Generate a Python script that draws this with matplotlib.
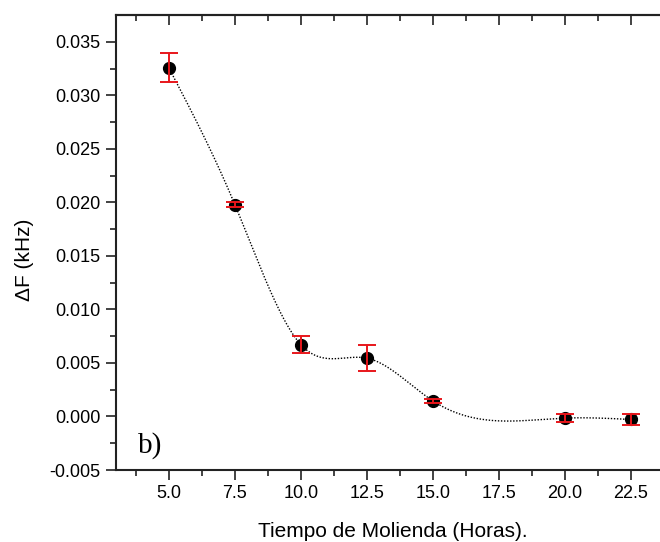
import numpy as np
import matplotlib.pyplot as plt

# milling time (hours) vs frequency shift, with error bars
hours = [5.0, 7.5, 10.0, 12.5, 15.0, 20.0, 22.5]
delta_f = [0.03257, 0.01980, 0.00672, 0.00545, 0.00146, -0.00015, -0.00028]
delta_f_err = [0.00135, 0.00020, 0.00080, 0.00120, 0.00022, 0.00035, 0.00050]

xticks = [5.0, 7.5, 10.0, 12.5, 15.0, 17.5, 20.0, 22.5]
yticks = [-0.005, 0.0, 0.005, 0.010, 0.015, 0.020, 0.025, 0.030, 0.035]


def natural_spline(x, y, npts=400):
    # natural cubic spline through the points, for the connecting line
    x = np.asarray(x, float)
    y = np.asarray(y, float)
    n = len(x)
    h = np.diff(x)
    A = np.zeros((n, n))
    r = np.zeros(n)
    A[0, 0] = A[-1, -1] = 1.0
    for i in range(1, n - 1):
        A[i, i - 1] = h[i - 1]
        A[i, i] = 2 * (h[i - 1] + h[i])
        A[i, i + 1] = h[i]
        r[i] = 3 * ((y[i + 1] - y[i]) / h[i] - (y[i] - y[i - 1]) / h[i - 1])
    c = np.linalg.solve(A, r)
    b = (y[1:] - y[:-1]) / h - h * (2 * c[:-1] + c[1:]) / 3
    d = (c[1:] - c[:-1]) / (3 * h)
    xs = np.linspace(x[0], x[-1], npts)
    k = np.clip(np.searchsorted(x, xs, side="right") - 1, 0, n - 2)
    dx = xs - x[k]
    ys = y[k] + b[k] * dx + c[k] * dx**2 + d[k] * dx**3
    return xs, ys


plt.rcParams["font.family"] = ["Liberation Sans", "DejaVu Sans"]

fig = plt.figure(figsize=(6.6, 5.42), dpi=100)
ax = fig.add_axes([0.1758, 0.1328, 0.840, 0.8395])

xs, ys = natural_spline(hours, delta_f)
ax.plot(xs, ys, color="black", lw=1.0, linestyle=(0, (1, 1.2)), zorder=2)
ax.plot(hours, delta_f, "o", color="black", markersize=8.5, zorder=3)
ax.errorbar(hours, delta_f, yerr=delta_f_err, fmt="none", ecolor="#e8161b",
            elinewidth=1.4, capsize=6.5, capthick=1.4, zorder=4)

ax.set_xlim(3.0, 24.0)
ax.set_ylim(-0.005, 0.0375)
ax.set_xticks(xticks)
ax.set_xticklabels([f"{v:.1f}" for v in xticks])
ax.set_xticks(np.arange(3.75, 24, 2.5), minor=True)
ax.set_yticks(yticks)
ax.set_yticklabels([f"{v:.3f}" for v in yticks])
ax.set_yticks(np.arange(-0.0025, 0.0375, 0.005), minor=True)

ax.spines["right"].set_visible(False)
for side in ["left", "bottom", "top"]:
    ax.spines[side].set_linewidth(1.5)
    ax.spines[side].set_color("#222222")

ax.tick_params(which="major", direction="out", length=7, width=1.2,
               labelsize=13, pad=4, colors="#222222", labelcolor="black")
ax.tick_params(which="minor", direction="out", length=4, width=1.2, colors="#222222")

# top axis: same ticks, pointing into the plot, no labels
top = ax.secondary_xaxis("top")
top.set_xticks(xticks)
top.set_xticks(np.arange(3.75, 24, 2.5), minor=True)
top.tick_params(which="major", direction="in", length=7, width=1.2,
                labeltop=False, colors="#222222")
top.tick_params(which="minor", direction="in", length=4, width=1.2, colors="#222222")
top.spines["top"].set_linewidth(1.5)
top.spines["top"].set_color("#222222")

ax.set_xlabel("Tiempo de Molienda (Horas).", fontsize=15, labelpad=14)
ax.set_ylabel("\u0394F (kHz)", fontsize=15)
ax.yaxis.set_label_coords(-0.148, 0.4615)

ax.text(3.83, -0.00336, "b)", fontsize=21, family="Liberation Serif",
        va="baseline", ha="left")

fig.savefig("out.png", dpi=100)
